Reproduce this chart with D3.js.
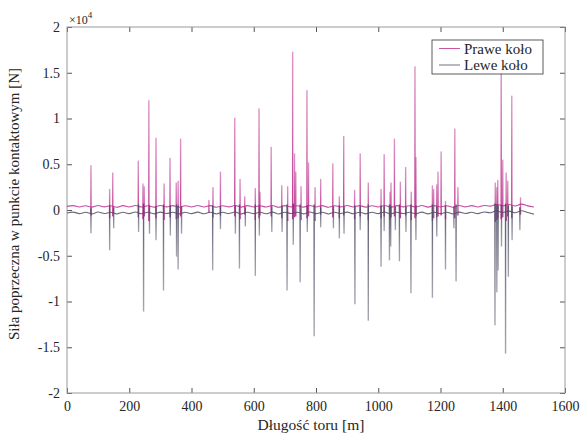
<!DOCTYPE html>
<html>
<head>
<meta charset="utf-8">
<script src="https://cdn.jsdelivr.net/npm/d3@7"></script>
<style>
  body { margin: 0; background: #fff; }
  svg { display: block; }
  text { font-family: "Liberation Serif", "Times New Roman", serif; fill: #262626; }
</style>
</head>
<body>
<svg width="583" height="434"></svg>
<script>
// axis ticks
const xTicks = [0, 200, 400, 600, 800, 1000, 1200, 1400, 1600]
const yTicks = [-20000, -15000, -10000, -5000, 0, 5000, 10000, 15000, 20000]

// baseline samples, every 20 m from 0 to 1500 (N)
const baseDist = d3.range(0, 1501, 20)
const rightBase = [400, 480, 330, 470, 310, 490, 340, 470, 300, 480, 330, 500, 320, 470, 310, 490,
  340, 480, 300, 470, 330, 490, 320, 480, 300, 470, 340, 500, 310, 480, 330, 470, 320, 490, 300, 480,
  340, 470, 310, 500, 330, 480, 300, 470, 340, 490, 320, 480, 310, 470, 330, 500, 300, 480, 340, 470,
  320, 490, 310, 480, 330, 470, 300, 490, 340, 480, 330, 500, 420, 620, 450, 600, 430, 640, 450, 330]
const leftBase = [-330, -230, -400, -250, -420, -220, -390, -250, -430, -240, -400, -220, -410, -250, -420, -230,
  -390, -240, -430, -250, -400, -230, -410, -240, -430, -250, -390, -220, -420, -240, -400, -250, -410, -230, -430, -240,
  -390, -250, -420, -220, -400, -240, -430, -250, -390, -230, -410, -240, -420, -250, -400, -220, -430, -240, -390, -250,
  -410, -230, -420, -240, -400, -250, -430, -230, -390, -240, -400, -220, -300, -100, -280, -120, -300, -90, -270, -450]

// spikes: [distance m, peak N, opposite excursion N]
const rightSpikes = [
  [77, 4900, -600], [137, 2300, -900], [147, 4100, -700], [229, 5400, -800], [244, 2900, -1000],
  [248, 2600, -700], [263, 12000, -1200], [286, 7900, -900], [312, 2900, -1100], [331, 5700, -800],
  [351, 3000, -1000], [357, 3200, -900], [365, 7800, -700], [456, 1100, -300], [469, 2500, -800],
  [493, 4200, -600], [539, 10100, -700], [556, 3400, -1000], [571, 1500, -500], [605, 2400, -1100],
  [617, 11100, -900], [620, 2000, -600], [656, 6900, -700], [690, 2700, -900], [709, 2600, -1200],
  [725, 17300, -1000], [731, 6200, -800], [735, 4200, -700], [752, 2600, -1100], [771, 13100, -900],
  [776, 5200, -700], [797, 2500, -1200], [815, 3400, -500], [854, 5100, -800], [875, 1500, -900],
  [889, 8100, -600], [924, 2200, -1000], [942, 6200, -700], [968, 3000, -1100], [1009, 2300, -900],
  [1019, 6100, -700], [1038, 2000, -1000], [1041, 3000, -800], [1052, 7800, -700], [1071, 3100, -900],
  [1088, 4700, -600], [1106, 2000, -1100], [1118, 15700, -900], [1121, 5800, -700], [1174, 2700, -1200],
  [1178, 2300, -900], [1188, 2800, -800], [1192, 4200, -700], [1202, 6400, -600], [1216, 1000, -1000],
  [1246, 8900, -900], [1256, 2500, -600], [1376, 3000, -1300], [1381, 2500, -1100], [1384, 3300, -900],
  [1395, 16700, -1000], [1400, 5500, -800], [1411, 4100, -1200], [1416, 3200, -700], [1429, 12500, -900],
  [1457, 1400, -500]
]
const leftSpikes = [
  [77, -2550, 200], [137, -4400, 500], [150, -2000, 300], [230, -2400, 600], [246, -11100, 700],
  [265, -2600, 500], [286, -3300, 400], [310, -8800, 600], [332, -2800, 500], [352, -5100, 600],
  [357, -6500, 500], [368, -2600, 400], [468, -6600, 500], [493, -2100, 400], [541, -2600, 500],
  [554, -6400, 600], [573, -1800, 300], [605, -7200, 600], [618, -2800, 500], [658, -2400, 400],
  [691, -2400, 500], [707, -8800, 600], [727, -3800, 700], [749, -7900, 600], [772, -2400, 500],
  [794, -13800, 600], [815, -1900, 300], [856, -2000, 400], [875, -3100, 500], [890, -2600, 400],
  [925, -10300, 500], [942, -2200, 400], [968, -12100, 600], [1009, -6200, 500], [1019, -2300, 400],
  [1036, -5500, 600], [1040, -4000, 500], [1055, -2200, 400], [1068, -5600, 600], [1089, -2400, 400],
  [1105, -9100, 600], [1121, -3300, 500], [1174, -9600, 600], [1188, -2900, 400], [1216, -6500, 500],
  [1243, -2000, 400], [1250, -7800, 600], [1375, -12600, 700], [1381, -9000, 600], [1385, -6600, 500],
  [1396, -4000, 600], [1409, -15700, 700], [1418, -7300, 500], [1430, -3300, 400], [1455, -2200, 300]
]

const seriesNames = ['Prawe koło', 'Lewe koło']
const colors = ['#bb2d8c', '#4f4f66']

const svg = d3.select('svg')
const mLeft = 67, mRight = 565, mTop = 27, mBottom = 393

const x = d3.scaleLinear().domain([0, 1600]).range([mLeft, mRight])
const y = d3.scaleLinear().domain([-20000, 20000]).range([mBottom, mTop])

// axes with inward ticks
const gx = svg.append('g').attr('transform', `translate(0,${mBottom})`)
  .call(d3.axisBottom(x).tickValues(xTicks).tickSize(-5).tickPadding(8).tickFormat(d => d))
const gy = svg.append('g').attr('transform', `translate(${mLeft},0)`)
  .call(d3.axisLeft(y).tickValues(yTicks).tickSize(-5).tickPadding(7).tickFormat(d => d / 10000))
const gt = svg.append('g').attr('transform', `translate(0,${mTop})`)
  .call(d3.axisTop(x).tickValues(xTicks).tickSize(-5).tickFormat(''))
const gr = svg.append('g').attr('transform', `translate(${mRight},0)`)
  .call(d3.axisRight(y).tickValues(yTicks).tickSize(-5).tickFormat(''))

for (const g of [gx, gy, gt, gr]) {
  g.select('.domain').remove()
  g.selectAll('.tick line').attr('stroke', '#555')
  g.selectAll('text').attr('font-family', '"Liberation Serif", serif').attr('font-size', 14).attr('fill', '#1e1e1e')
}

svg.append('rect')
  .attr('x', mLeft).attr('y', mTop)
  .attr('width', mRight - mLeft).attr('height', mBottom - mTop)
  .attr('fill', 'none').attr('stroke', '#9a9a9a')

// spike fade: darker near the baseline, lighter towards the tip
const defs = svg.append('defs')
function fade(id, color, up) {
  const g = defs.append('linearGradient').attr('id', id)
    .attr('x1', 0).attr('x2', 0).attr('y1', up ? 1 : 0).attr('y2', up ? 0 : 1)
  g.append('stop').attr('offset', 0).attr('stop-color', color).attr('stop-opacity', 0.95)
  g.append('stop').attr('offset', 1).attr('stop-color', color).attr('stop-opacity', 0.5)
}
fade('fadeR', colors[0], true)
fade('fadeL', colors[1], false)

const plot = svg.append('g')

function drawSeries(base, spikes, color, fill) {
  const pts = baseDist.map((d, i) => [d, base[i]])
  plot.append('path')
    .attr('d', d3.line().x(d => x(d[0])).y(d => y(d[1])).curve(d3.curveMonotoneX)(pts))
    .attr('fill', 'none').attr('stroke', color).attr('stroke-width', 1.1).attr('opacity', 0.85)
  plot.append('g').selectAll('rect')
    .data(spikes)
    .enter().append('rect')
    .attr('x', d => x(d[0]) - 0.7).attr('width', 1.4)
    .attr('y', d => y(Math.max(d[1], d[2])))
    .attr('height', d => Math.abs(y(d[1]) - y(d[2])))
    .attr('fill', fill)
}
drawSeries(rightBase, rightSpikes, colors[0], 'url(#fadeR)')
drawSeries(leftBase, leftSpikes, colors[1], 'url(#fadeL)')

// exponent label
const ex = svg.append('text').attr('x', mLeft + 2).attr('y', 24).attr('font-size', 12)
ex.append('tspan').text('×10')
ex.append('tspan').attr('dy', -6).attr('font-size', 9).text('4')

// axis titles
svg.append('text')
  .attr('x', 311).attr('y', 430)
  .attr('text-anchor', 'middle').attr('font-size', 15.5)
  .text('Długość toru [m]')
svg.append('text')
  .attr('transform', 'translate(19,204) rotate(-90)')
  .attr('text-anchor', 'middle').attr('font-size', 15)
  .text('Siła poprzeczna w punkcie kontaktowym [N]')

// legend
const lg = svg.append('g')
lg.append('rect').attr('x', 432).attr('y', 40).attr('width', 111).attr('height', 34)
  .attr('fill', '#fff').attr('stroke', '#333').attr('stroke-width', 0.8)
seriesNames.forEach((name, i) => {
  const ly = 48.5 + i * 16.5
  lg.append('line').attr('x1', 439).attr('x2', 460).attr('y1', ly).attr('y2', ly)
    .attr('stroke', colors[i]).attr('stroke-width', 1).attr('opacity', 0.8)
  lg.append('text').attr('x', 464).attr('y', ly + 5).attr('font-size', 15).text(name)
})
</script>
</body>
</html>
